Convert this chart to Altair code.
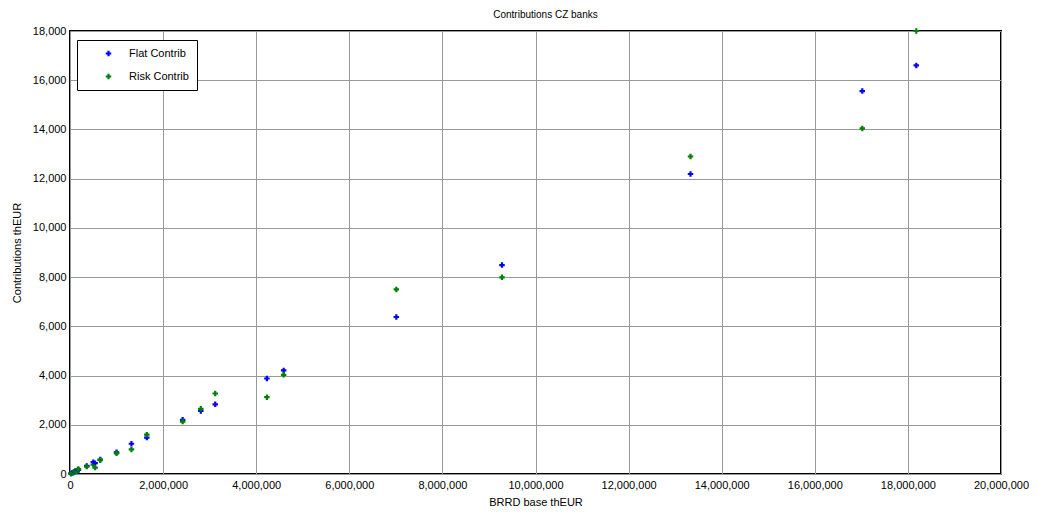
import altair as alt
import pandas as pd

brrd = [20000, 50000, 80000, 110000, 150000, 180000, 360000, 500000, 540000, 650000,
        1000000, 1320000, 1650000, 2420000, 2810000, 3120000, 4230000, 4590000,
        7010000, 9280000, 13330000, 17020000, 18180000]
flat = [20, 50, 80, 100, 140, 170, 330, 480, 440, 590,
        880, 1230, 1480, 2200, 2560, 2830, 3880, 4210,
        6380, 8490, 12190, 15560, 16600]
risk = [15, 40, 60, 120, 100, 200, 300, 380, 260, 560,
        840, 1000, 1600, 2130, 2650, 3270, 3120, 4030,
        7500, 7990, 12900, 14040, 18000]
series = ["Flat Contrib", "Risk Contrib"]
colors = ["#0000ff", "#008000"]
x_ticks = list(range(0, 20000001, 2000000))
y_ticks = list(range(0, 18001, 2000))

rows = []
for b, f, r in zip(brrd, flat, risk):
    rows.append({"brrd": b, "val": f, "series": series[0]})
    rows.append({"brrd": b, "val": r, "series": series[1]})
df = pd.DataFrame(rows)

FONT = "Liberation Sans"

chart = alt.Chart(df).mark_point(shape="cross", filled=True, size=30, opacity=1).encode(
    x=alt.X("brrd:Q", title="BRRD base thEUR",
            scale=alt.Scale(domain=[0, 20000000], nice=False, zero=True),
            axis=alt.Axis(values=x_ticks, format=",d", ticks=False, labelPadding=5,
                          titlePadding=6, domain=False, gridColor="#999999",
                          gridOpacity=1, labelFlush=False)),
    y=alt.Y("val:Q", title="Contributions thEUR",
            scale=alt.Scale(domain=[0, 18000], nice=False),
            axis=alt.Axis(values=y_ticks, format=",d", ticks=False, labelPadding=4,
                          titlePadding=10, domain=False, gridColor="#999999",
                          gridOpacity=1, labelFlush=False)),
    color=alt.Color("series:N", scale=alt.Scale(domain=series, range=colors),
                    legend=alt.Legend(title=None, orient="none", legendX=7, legendY=9,
                                      strokeColor="black", fillColor="white",
                                      padding=8, symbolOffset=18, labelOffset=15,
                                      rowPadding=11, symbolType="cross", symbolSize=30,
                                      labelFontSize=11, labelFont=FONT, cornerRadius=0,
                                      labelLimit=200)),
).properties(
    width=931, height=443,
    title=alt.TitleParams("Contributions CZ banks", fontSize=10, font=FONT,
                          fontWeight="normal", offset=5, dx=10),
    padding={"left": 62, "top": 23, "right": 28, "bottom": 38},
    autosize=alt.AutoSizeParams(type="none"),
).configure_view(stroke="black", strokeWidth=2).configure_axis(
    labelFont=FONT, titleFont=FONT, labelFontSize=11, titleFontSize=11,
    titleFontWeight="normal", labelColor="black", titleColor="black"
)

chart.save("out.html", embed_options={"renderer": "svg", "actions": False})
